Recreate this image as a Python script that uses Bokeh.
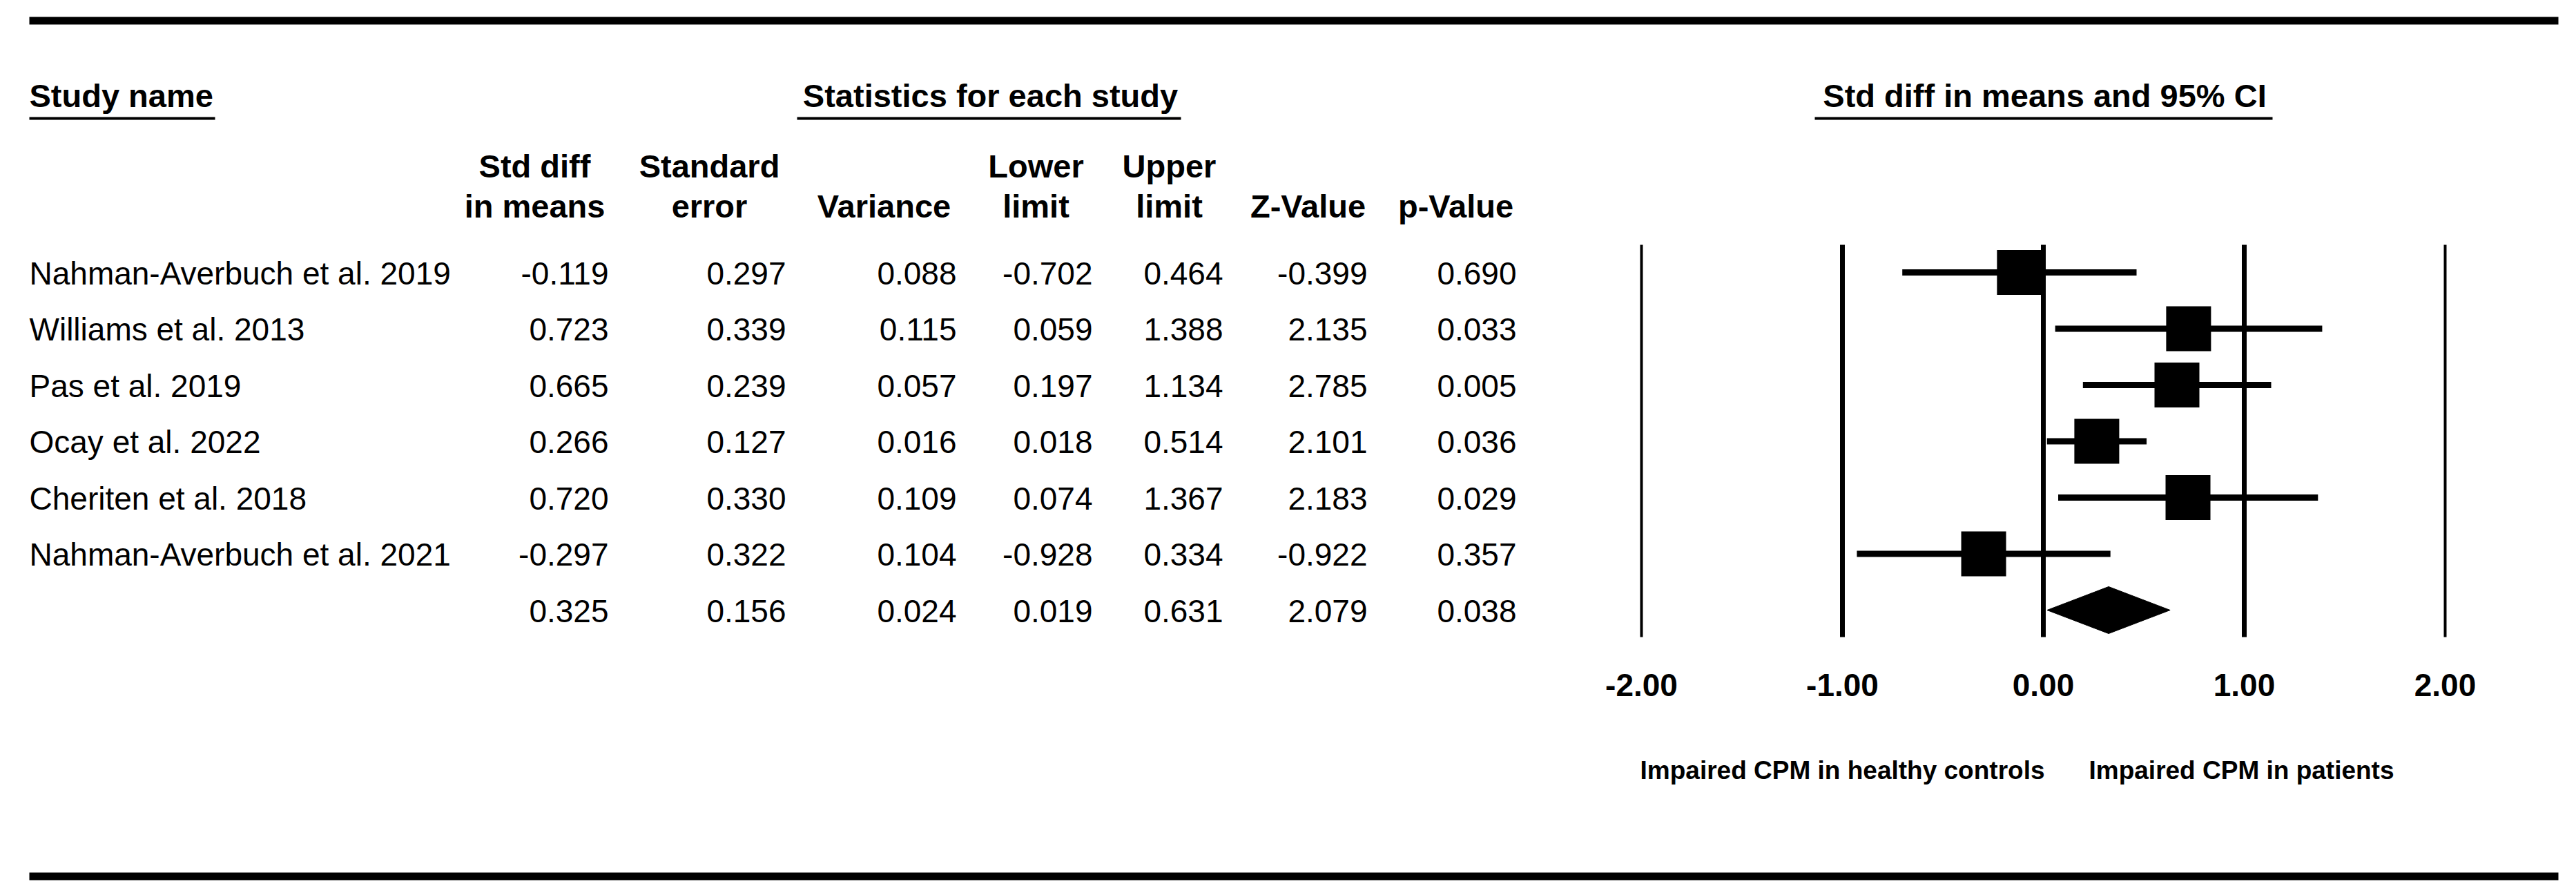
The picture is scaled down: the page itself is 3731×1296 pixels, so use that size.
from bokeh.plotting import figure
from bokeh.models import Range1d
from bokeh.core.properties import value
from bokeh.embed import file_html
from bokeh.resources import INLINE

# ---------------- data ----------------
studies = ["Nahman-Averbuch et al. 2019", "Williams et al. 2013", "Pas et al. 2019",
           "Ocay et al. 2022", "Cheriten et al. 2018", "Nahman-Averbuch et al. 2021", ""]
std_diff = [-0.119, 0.723, 0.665, 0.266, 0.720, -0.297, 0.325]
std_err = [0.297, 0.339, 0.239, 0.127, 0.330, 0.322, 0.156]
variance = [0.088, 0.115, 0.057, 0.016, 0.109, 0.104, 0.024]
lower = [-0.702, 0.059, 0.197, 0.018, 0.074, -0.928, 0.019]
upper = [0.464, 1.388, 1.134, 0.514, 1.367, 0.334, 0.631]
z_value = [-0.399, 2.135, 2.785, 2.101, 2.183, -0.922, 2.079]
p_value = [0.690, 0.033, 0.005, 0.036, 0.029, 0.357, 0.038]
head_line1 = ["Std diff", "Standard", "", "Lower", "Upper", "", ""]
head_line2 = ["in means", "error", "Variance", "limit", "limit", "Z-Value", "p-Value"]
tick_values = [-2, -1, 0, 1, 2]
tick_labels = ["-2.00", "-1.00", "0.00", "1.00", "2.00"]
left_note = "Impaired CPM in healthy controls"
right_note = "Impaired CPM in patients"
section_titles = ["Study name", "Statistics for each study", "Std diff in means and 95% CI"]

n_studies = 6
summary_row = 6

# ---------------- layout (pixel) ----------------
W, H = 3715, 1280
FONT = value("Liberation Sans")
TXT = dict(text_font=FONT, text_baseline="alphabetic", text_color="black")
BIG_OFF = -16   # baseline correction for 46-47px text
SMALL_OFF = -13  # baseline correction for 37px text

p = figure(width=W, height=H, output_backend="svg", toolbar_location=None,
           x_range=Range1d(0, W), y_range=Range1d(H, 0),
           min_border=0, outline_line_color=None)
p.axis.visible = False
p.grid.visible = False
p.background_fill_color = "white"
p.border_fill_color = "white"

# forest scale: value 0 at px 2959, 1 unit = 291 px
x0_px, unit_px = 2959.0, 291.0
p.extra_x_ranges = {"forest": Range1d((0 - x0_px) / unit_px, (W - x0_px) / unit_px)}
# row scale: row 0 at px 394, spacing 81.5 px
r0_px, row_px = 394.0, 81.5
p.extra_y_ranges = {"rows": Range1d((H - r0_px) / row_px, (0 - r0_px) / row_px)}

# thick rules top / bottom
p.quad(left=[42, 42], right=[3705, 3705], top=[24, 1263], bottom=[35, 1274],
       fill_color="black", line_color=None)

# section titles with underlines
p.text(x=[42], y=[154], text=[section_titles[0]], text_font_style="bold",
       text_font_size="47px", text_align="left", y_offset=BIG_OFF, **TXT)
p.text(x=[1434], y=[154], text=[section_titles[1]], text_font_style="bold",
       text_font_size="47px", text_align="center", y_offset=BIG_OFF, **TXT)
p.text(x=[2961], y=[154], text=[section_titles[2]], text_font_style="bold",
       text_font_size="47px", text_align="center", y_offset=BIG_OFF, **TXT)
p.quad(left=[42, 1154, 2628], right=[311, 1710, 3291], top=[169, 169, 169], bottom=[173, 173, 173],
       fill_color="black", line_color=None)

# column headers
col_right = [881, 1138, 1385, 1582, 1771, 1980, 2196]
head_center = [774, 1027, 1280, 1500, 1693, 1894, 2108]
p.text(x=head_center, y=[256] * 7, text=head_line1, text_font_style="bold",
       text_font_size="47px", text_align="center", y_offset=BIG_OFF, **TXT)
p.text(x=head_center, y=[314] * 7, text=head_line2, text_font_style="bold",
       text_font_size="47px", text_align="center", y_offset=BIG_OFF, **TXT)

# study names
rows = list(range(len(studies)))
p.text(x=[42] * len(studies), y=rows, y_range_name="rows", text=studies,
       text_font_size="46px", text_align="left", y_offset=17 + BIG_OFF, **TXT)

# numeric table
columns = [std_diff, std_err, variance, lower, upper, z_value, p_value]
cx, cy, ct = [], [], []
for ci, col in enumerate(columns):
    for ri, v in enumerate(col):
        cx.append(col_right[ci])
        cy.append(ri)
        ct.append("%.3f" % v)
p.text(x=cx, y=cy, y_range_name="rows", text=ct, text_font_size="46px",
       text_align="right", y_offset=17 + BIG_OFF, **TXT)

# forest plot reference lines
p.segment(x0=tick_values, x1=tick_values, y0=[354] * 5, y1=[922] * 5, x_range_name="forest",
          line_color="black", line_width=[4, 7, 7, 7, 4], line_cap="butt")

# CIs and boxes
study_rows = rows[:n_studies]
p.segment(x0=lower[:n_studies], x1=upper[:n_studies], y0=study_rows, y1=study_rows,
          x_range_name="forest", y_range_name="rows", line_color="black", line_width=9,
          line_cap="butt")
p.scatter(x=std_diff[:n_studies], y=study_rows, x_range_name="forest", y_range_name="rows",
          marker="square", size=65, fill_color="black", line_color=None)

# summary diamond
hh = 0.417
p.patch(x=[lower[summary_row], std_diff[summary_row], upper[summary_row], std_diff[summary_row]],
        y=[summary_row, summary_row - hh, summary_row, summary_row + hh],
        x_range_name="forest", y_range_name="rows", fill_color="black", line_color="black",
        line_width=1)

# tick labels
p.text(x=tick_values, y=[1007] * 5, x_range_name="forest", text=tick_labels,
       text_font_style="bold", text_font_size="46px", text_align="center",
       y_offset=BIG_OFF, **TXT)

# direction notes
p.text(x=[2961], y=[1128], text=[left_note], text_font_style="bold",
       text_font_size="37px", text_align="right", y_offset=SMALL_OFF, **TXT)
p.text(x=[3025], y=[1128], text=[right_note], text_font_style="bold",
       text_font_size="37px", text_align="left", y_offset=SMALL_OFF, **TXT)

open("out.html", "w").write(file_html(p, INLINE))
